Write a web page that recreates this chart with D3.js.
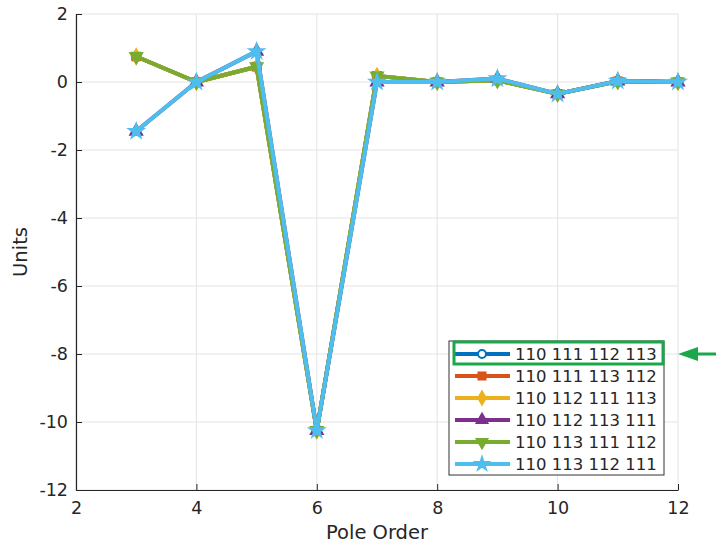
<!DOCTYPE html>
<html><head><meta charset="utf-8">
<script src="https://cdn.jsdelivr.net/npm/d3@7"></script>
<style>body{margin:0;background:#fff;} svg{display:block;font-family:"DejaVu Sans",sans-serif;}</style>
</head><body>
<svg id="c" width="716" height="544"></svg>
<script>
const poleOrder = [3,4,5,6,7,8,9,10,11,12];
const seriesNames = ["110 111 112 113","110 111 113 112","110 112 111 113","110 112 113 111","110 113 111 112","110 113 112 111"];
const seriesColors = ["#0072BD","#D95319","#EDB120","#7E2F8E","#77AC30","#4DBEEE"];
const seriesMarkers = ["circle","square","diamond","triangle","triangledown","star"];
const s1 = [0.75,0,0.45,-10.25,0.18,0,0.05,-0.35,0.02,0];
const s2 = [0.75,0,0.45,-10.25,0.18,0,0.05,-0.35,0.02,0];
const s3 = [0.75,0,0.45,-10.25,0.18,0,0.05,-0.35,0.02,0];
const s4 = [-1.45,0,0.9,-10.25,0.0,0,0.1,-0.35,0.03,0];
const s5 = [0.75,0,0.45,-10.25,0.18,0,0.05,-0.35,0.02,0];
const s6 = [-1.45,0,0.9,-10.25,0.0,0,0.1,-0.35,0.03,0];
const seriesValues = [s1,s2,s3,s4,s5,s6];
const xTicks = [2,4,6,8,10,12];
const yTicks = [2,0,-2,-4,-6,-8,-10,-12];

const svg = d3.select("#c");
const L=76,R=678,T=14,B=490;
const x = d3.scaleLinear().domain([2,12]).range([L,R]);
const y = d3.scaleLinear().domain([-12,2]).range([B,T]);

// grid
svg.append("g").selectAll("line").data(xTicks).join("line")
  .attr("x1",d=>x(d)).attr("x2",d=>x(d)).attr("y1",T).attr("y2",B)
  .attr("stroke","#e3e3e3").attr("stroke-width",1);
svg.append("g").selectAll("line").data(yTicks).join("line")
  .attr("x1",L).attr("x2",R).attr("y1",d=>y(d)).attr("y2",d=>y(d))
  .attr("stroke","#e3e3e3").attr("stroke-width",1);

// axes
const xa = svg.append("g").attr("transform",`translate(0,${B})`)
  .call(d3.axisBottom(x).tickValues(xTicks).tickSizeInner(-6).tickSizeOuter(0).tickPadding(12).tickFormat(d3.format("d")));
const ya = svg.append("g").attr("transform",`translate(${L},0)`)
  .call(d3.axisLeft(y).tickValues(yTicks).tickSizeInner(-6).tickSizeOuter(0).tickPadding(8).tickFormat(d=>d<0?"-"+Math.abs(d):d));
[xa,ya].forEach(a=>{
  a.selectAll("path").attr("stroke","#262626").attr("stroke-width",1.2);
  a.selectAll("line").attr("stroke","#262626");
  a.selectAll("text").attr("fill","#262626").style("font-size","17.5px").style("font-family","DejaVu Sans, sans-serif");
});

svg.append("text").attr("x",(L+R)/2).attr("y",539).attr("text-anchor","middle")
  .attr("fill","#262626").style("font-size","19.5px").text("Pole Order");
svg.append("text").attr("transform",`translate(27,${(T+B)/2}) rotate(-90)`).attr("text-anchor","middle")
  .attr("fill","#262626").style("font-size","19.5px").text("Units");

const sym = {circle:d3.symbolCircle,square:d3.symbolSquare,diamond:d3.symbolDiamond,triangle:d3.symbolTriangle,triangledown:d3.symbolTriangle,star:d3.symbolStar};
function marker(g,type,color,cx,cy,size){
  return g.append("path").attr("d",d3.symbol().type(sym[type]).size(size)())
    .attr("transform",`translate(${cx},${cy})`+(type==="triangledown"?" rotate(180)":""))
    .attr("fill",type==="circle"?"#fff":color).attr("stroke",color).attr("stroke-width",2);
}

const line = d3.line().x((d,i)=>x(poleOrder[i])).y(d=>y(d));
seriesValues.forEach((vals,k)=>{
  const g = svg.append("g");
  g.append("path").datum(vals).attr("d",line).attr("fill","none")
    .attr("stroke",seriesColors[k]).attr("stroke-width",4).attr("stroke-linejoin","round");
  vals.forEach((v,i)=>marker(g,seriesMarkers[k],seriesColors[k],x(poleOrder[i]),y(v),60));
});

// legend
const lg = svg.append("g");
const lx=449, ly=341, lw=215, lh=134;
lg.append("rect").attr("x",lx).attr("y",ly).attr("width",lw).attr("height",lh)
  .attr("fill","#fff").attr("stroke","#333").attr("stroke-width",1);
seriesNames.forEach((n,k)=>{
  const yy = 354 + k*22;
  lg.append("line").attr("x1",455).attr("x2",510).attr("y1",yy).attr("y2",yy)
    .attr("stroke",seriesColors[k]).attr("stroke-width",4);
  marker(lg,seriesMarkers[k],seriesColors[k],482,yy,50);
  lg.append("text").attr("x",515).attr("y",yy+6).attr("fill","#262626")
    .style("font-size","16.5px").text(n);
});
// highlight box and arrow
svg.append("rect").attr("x",454).attr("y",342).attr("width",209).attr("height",22)
  .attr("fill","none").attr("stroke","#1aa84a").attr("stroke-width",3);
svg.append("line").attr("x1",716).attr("x2",692).attr("y1",354).attr("y2",354)
  .attr("stroke","#1aa84a").attr("stroke-width",3);
svg.append("path").attr("d","M678,354 L698,347 L698,361 Z").attr("fill","#1aa84a");
</script>
</body></html>
